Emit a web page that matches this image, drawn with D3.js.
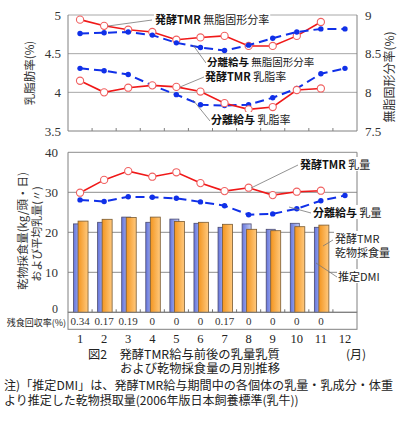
<!DOCTYPE html>
<html><head><meta charset="utf-8">
<script src="https://cdn.jsdelivr.net/npm/d3@7"></script>
<style>body{margin:0;background:#fff}svg{display:block}</style>
</head><body>
<svg id="c" width="398" height="442"></svg>
<script>
const months = ["1","2","3","4","5","6","7","8","9","10","11","12"];
const tmrSnf = [8.94,8.86,8.81,8.78,8.68,8.71,8.73,8.60,8.60,8.73,8.91,null];
const sepSnf = [8.76,8.77,8.78,8.74,8.64,8.58,8.54,8.61,8.70,8.78,8.82,8.82];
const tmrFat = [4.15,4.00,4.06,4.09,4.07,4.01,3.86,3.78,3.81,4.03,4.05,null];
const sepFat = [4.31,4.28,4.23,4.09,3.97,3.84,3.83,3.84,3.93,4.05,4.24,4.31];
const tmrMilk = [29.9,33.1,35.3,33.9,35.0,32.3,30.3,31.15,29.3,30.15,30.4,null];
const sepMilk = [28.1,27.7,28.9,28.75,28.5,27.6,26.65,24.4,24.6,25.9,27.9,29.2];
const estDMI = [22.1,22.5,23.8,22.5,23.3,22.25,21.25,22.1,20.75,22.25,21.25,null];
const tmrDMI = [22.8,23.25,23.7,23.8,22.7,22.5,22.0,20.75,20.4,21.4,21.8,null];
const residue = ["0.34","0.17","0.19","0","0","0","0.17","0","0","0","0",""];
const topLeftTicks = [3.5,4,4.5,5];
const topRightTicks = [7.5,8,8.5,9];
const botTicks = [0,10,20,30,40];

const svg = d3.select("#c");
const JP = "'Noto Sans CJK JP', sans-serif";
const SERIF = "'Liberation Serif', 'DejaVu Serif', serif";
const L = 68, R = 357;
const x = d3.scaleBand().domain(months).range([L, R]);
const cx = i => x(months[i]) + x.bandwidth()/2;

const yL = d3.scaleLinear().domain([3.5,5]).range([131,15]);
const yR = d3.scaleLinear().domain([7.5,9]).range([131,15]);
const yB = d3.scaleLinear().domain([0,40]).range([312.3,152.3]);

// gradients
const defs = svg.append("defs");
function grad(id, a, b){
  const g = defs.append("linearGradient").attr("id",id).attr("x1","0").attr("x2","1").attr("y1","0").attr("y2","0");
  g.append("stop").attr("offset","0").attr("stop-color",a);
  g.append("stop").attr("offset","1").attr("stop-color",b);
}
grad("gb","#6575dc","#c3cdf6");
grad("go","#f3951f","#ffc97e");

// ---------- TOP CHART ----------
const gTop = svg.append("g");
topLeftTicks.forEach(t=>{
  gTop.append("line").attr("x1",L).attr("x2",R).attr("y1",yL(t)).attr("y2",yL(t))
    .attr("stroke", t===3.5? "#808080":"#a8a8a8").attr("stroke-width",1);
});
gTop.append("line").attr("x1",L).attr("x2",L).attr("y1",15).attr("y2",131).attr("stroke","#808080");
gTop.append("line").attr("x1",R).attr("x2",R).attr("y1",15).attr("y2",131).attr("stroke","#808080");
months.forEach((m,i)=>{ if(i>0) gTop.append("line").attr("x1",x(m)).attr("x2",x(m)).attr("y1",131).attr("y2",128).attr("stroke","#808080"); });
gTop.selectAll(".tl").data(topLeftTicks).enter().append("text")
  .attr("x",61).attr("y",d=>yL(d)+4.5).attr("text-anchor","end")
  .attr("font-family",SERIF).attr("font-size",13).attr("fill","#333").text(d=>d);
gTop.selectAll(".tr").data(topRightTicks).enter().append("text")
  .attr("x",365).attr("y",d=>yR(d)+4.5).attr("text-anchor","start")
  .attr("font-family",SERIF).attr("font-size",13).attr("fill","#333").text(d=>d);
gTop.append("text").attr("transform","translate(34,73) rotate(-90)").attr("text-anchor","middle")
  .attr("font-family",JP).attr("font-size",11.5).attr("fill","#333").text("乳脂肪率(%)");
gTop.append("text").attr("transform","translate(394,77) rotate(-90)").attr("text-anchor","middle")
  .attr("font-family",JP).attr("font-size",12).attr("fill","#333").text("無脂固形分率(%)");

function drawLine(g, data, y, kind){
  const pts = data.map((v,i)=>v==null?null:[cx(i),y(v)]).filter(p=>p);
  const line = d3.line();
  if(kind==="tmr"){
    g.append("path").attr("d",line(pts)).attr("fill","none").attr("stroke","#f01818").attr("stroke-width",1.6);
    g.selectAll(null).data(pts).enter().append("circle").attr("cx",d=>d[0]).attr("cy",d=>d[1]).attr("r",3.6)
      .attr("fill","#fff").attr("stroke","#f06060").attr("stroke-width",1.1);
  } else {
    g.append("path").attr("d",line(pts)).attr("fill","none").attr("stroke","#1030e8").attr("stroke-width",2)
      .attr("stroke-dasharray","9,5");
    g.selectAll(null).data(pts).enter().append("circle").attr("cx",d=>d[0]).attr("cy",d=>d[1]).attr("r",2.7)
      .attr("fill","#1030e8");
  }
}

// ---------- BOTTOM CHART ----------
const gBot = svg.append("g");
botTicks.forEach(t=>{
  gBot.append("line").attr("x1",L).attr("x2",R).attr("y1",yB(t)).attr("y2",yB(t))
    .attr("stroke", t===0? "#707070":"#8c8c8c").attr("stroke-width",1);
});
gBot.append("line").attr("x1",L).attr("x2",L).attr("y1",yB(40)).attr("y2",yB(0)).attr("stroke","#808080");
gBot.append("line").attr("x1",R).attr("x2",R).attr("y1",yB(40)).attr("y2",yB(0)).attr("stroke","#808080");
gBot.selectAll(".bl").data(botTicks).enter().append("text")
  .attr("x",58).attr("y",d=>d===0 ? yB(d)+0.5 : yB(d)+4.5).attr("text-anchor","end")
  .attr("font-family",SERIF).attr("font-size",d=>d===0?12:13).attr("fill","#333").text(d=>d);
gBot.append("text").attr("transform","translate(27,231) rotate(-90)").attr("text-anchor","middle")
  .attr("font-family",JP).attr("font-size",11.5).attr("fill","#333").text("乾物採食量(kg/頭・日)");
gBot.append("text").attr("transform","translate(41,234) rotate(-90)").attr("text-anchor","middle")
  .attr("font-family",JP).attr("font-size",11).attr("fill","#333").text("および平均乳量(〃)");

// bars
estDMI.forEach((v,i)=>{ if(v==null) return;
  gBot.append("rect").attr("x",cx(i)-6.5).attr("width",9).attr("y",yB(v)).attr("height",yB(0)-yB(v))
    .attr("fill","url(#gb)").attr("stroke","#4a4a70").attr("stroke-width",0.8);
});
tmrDMI.forEach((v,i)=>{ if(v==null) return;
  gBot.append("rect").attr("x",cx(i)-2).attr("width",10).attr("y",yB(v)).attr("height",yB(0)-yB(v))
    .attr("fill","url(#go)").attr("stroke","#7a5a30").attr("stroke-width",0.8);
});
months.forEach((m,i)=>{ if(i>0) gBot.append("line").attr("x1",x(m)).attr("x2",x(m)).attr("y1",312.3).attr("y2",309.3).attr("stroke","#707070"); });

drawLine(gTop, tmrSnf, yR, "tmr");
drawLine(gTop, sepSnf, yR, "sep");
drawLine(gTop, sepFat, yL, "sep");
drawLine(gTop, tmrFat, yL, "tmr");
drawLine(gBot, sepMilk, yB, "sep");
drawLine(gBot, tmrMilk, yB, "tmr");

// labels with leader lines
function label(x1,y1,x2,y2,tx,ty,bold,rest,fs,line2){
  svg.append("line").attr("x1",x1).attr("y1",y1).attr("x2",x2).attr("y2",y2).attr("stroke","#777").attr("stroke-width",0.8);
  const t = svg.append("text").attr("x",tx).attr("y",ty).attr("font-family",JP).attr("font-size",fs).attr("fill","#111");
  if(bold) t.append("tspan").attr("font-weight","bold").text(bold);
  if(rest) t.append("tspan").attr("fill","#222").text((bold?" ":"")+rest);
  if(line2) t.append("tspan").attr("x",tx).attr("dy",14).attr("fill","#222").text(line2);
  const bb = t.node().getBBox();
  svg.insert("rect", function(){return t.node();}).attr("x",bb.x-1).attr("y",bb.y+1).attr("width",bb.width+2).attr("height",bb.height-2).attr("fill","#fff");
}
label(108,26,152,20,155,24,"発酵TMR","無脂固形分率",11);
label(193,45,206,63,207,66,"分離給与","無脂固形分率",10.5);
label(180,87,204,77,205,81,"発酵TMR","乳脂率",11);
label(193,100,210,121,211,124,"分離給与","乳脂率",11);
label(251,188,298,165,300,169,"発酵TMR","乳量",11);
label(289,207,311,213,313,217,"分離給与","乳量",11);
label(323,246,333,240,335,243,null,"発酵TMR",11,"乾物採食量");
label(316,263,337,277,338,281,null,"推定DMI",11);

// residue table
svg.append("rect").attr("x",L).attr("y",312.3).attr("width",R-L).attr("height",17).attr("fill","none").attr("stroke","#808080");
svg.append("text").attr("x",66).attr("y",325.5).attr("text-anchor","end").attr("font-family",JP).attr("font-size",9)
  .attr("fill","#222").text("残食回収率(%)");
svg.selectAll(".res").data(residue).enter().append("text")
  .attr("x",(d,i)=>cx(i)).attr("y",325).attr("text-anchor","middle")
  .attr("font-family",SERIF).attr("font-size",11).attr("fill","#333").text(d=>d);
svg.selectAll(".mo").data(months).enter().append("text")
  .attr("x",(d,i)=>cx(i)).attr("y",342.5).attr("text-anchor","middle")
  .attr("font-family",SERIF).attr("font-size",12.5).attr("fill","#222").text(d=>d);

// caption (two lines in one text)
const cap = svg.append("text").attr("font-family",JP).attr("font-size",12.3).attr("fill","#222");
cap.append("tspan").attr("x",88).attr("y",358.5).text("図2　発酵TMR給与前後の乳量乳質");
cap.append("tspan").attr("x",200).attr("y",373).attr("text-anchor","middle").text("および乾物採食量の月別推移");
svg.append("text").attr("x",346).attr("y",358.5).attr("font-family",JP).attr("font-size",12).attr("fill","#222").text("(月)");

// note (two lines in one text)
const note = svg.append("text").attr("font-family",JP).attr("font-size",12).attr("fill","#222");
note.append("tspan").attr("x",4).attr("y",389.5).attr("textLength",389).attr("lengthAdjust","spacingAndGlyphs")
  .text("注)「推定DMI」は、発酵TMR給与期間中の各個体の乳量・乳成分・体重");
note.append("tspan").attr("x",4).attr("y",404.5).text("より推定した乾物摂取量(2006年版日本飼養標準(乳牛))");
</script>
</body></html>
